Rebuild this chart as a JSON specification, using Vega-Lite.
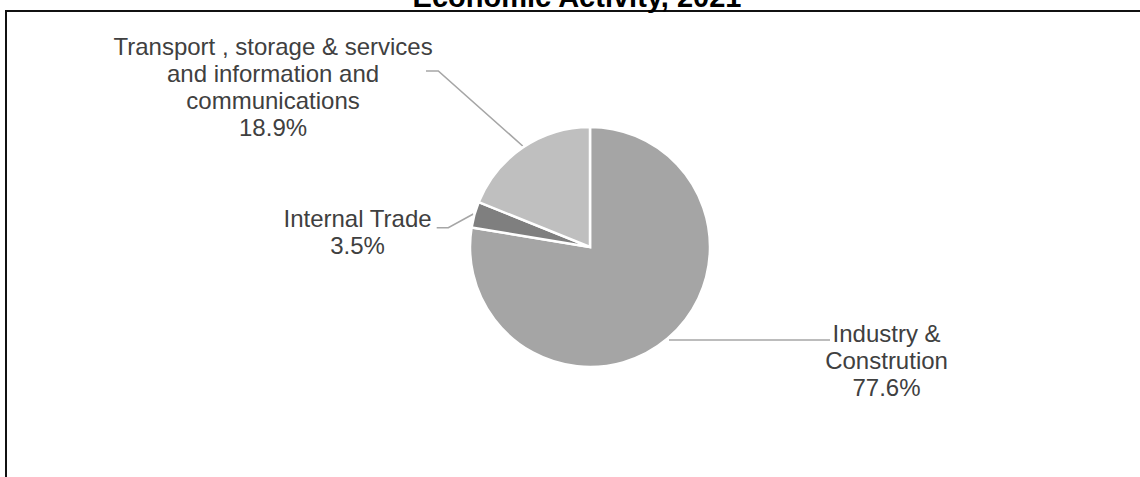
{
  "$schema": "https://vega.github.io/schema/vega-lite/v6.json",
  "autosize": "none",
  "width": 1168,
  "height": 472,
  "padding": {"left": 6, "top": 11, "right": -34, "bottom": -6},
  "background": "#ffffff",
  "config": {
    "view": {"stroke": "#111111", "strokeWidth": 2},
    "font": "Liberation Sans"
  },
  "title": {
    "text": "Economic Activity, 2021",
    "font": "Liberation Sans",
    "fontSize": 29,
    "fontWeight": "bold",
    "color": "#000000",
    "anchor": "middle",
    "frame": "group",
    "baseline": "alphabetic",
    "offset": 4,
    "dx": -13,
    "dy": 29
  },
  "datasets": {
    "slices": [
      {"category": "Industry & Constrution", "label": "Industry &|Constrution", "value": 77.6},
      {"category": "Internal Trade", "label": "Internal Trade", "value": 3.5},
      {"category": "Transport , storage & services and information and communications", "label": "Transport , storage & services|and information and|communications", "value": 18.9}
    ],
    "leaders": [
      {"category": "Industry & Constrution", "seq": 1, "x": 79, "y": -93},
      {"category": "Industry & Constrution", "seq": 2, "x": 240, "y": -93},
      {"category": "Internal Trade", "seq": 1, "x": -116.7, "y": 33},
      {"category": "Internal Trade", "seq": 2, "x": -141.7, "y": 19.3},
      {"category": "Internal Trade", "seq": 3, "x": -153.3, "y": 19.3},
      {"category": "Transport", "seq": 1, "x": -67.3, "y": 101},
      {"category": "Transport", "seq": 2, "x": -151.7, "y": 176},
      {"category": "Transport", "seq": 3, "x": -164, "y": 176}
    ]
  },
  "layer": [
    {
      "data": {"name": "leaders"},
      "mark": {"type": "line", "color": "#A6A6A6", "strokeWidth": 1.6},
      "encoding": {
        "x": {"field": "x", "type": "quantitative", "scale": {"domain": [-584, 584], "nice": false, "zero": false}, "axis": null},
        "y": {"field": "y", "type": "quantitative", "scale": {"domain": [-236, 236], "nice": false, "zero": false}, "axis": null},
        "detail": {"field": "category", "type": "nominal"},
        "order": {"field": "seq", "type": "quantitative"}
      }
    },
    {
      "data": {"name": "slices"},
      "transform": [
        {"stack": "value", "groupby": [], "sort": [{"field": "category", "order": "ascending"}], "as": ["v0", "v1"]}
      ],
      "mark": {"type": "arc", "radius": 120, "stroke": "#ffffff", "strokeWidth": 2.5},
      "encoding": {
        "theta": {"field": "v0", "type": "quantitative", "scale": {"domain": [0, 100]}},
        "theta2": {"field": "v1"},
        "color": {
          "field": "category",
          "type": "nominal",
          "scale": {
            "domain": ["Industry & Constrution", "Internal Trade", "Transport , storage & services and information and communications"],
            "range": ["#A5A5A5", "#7F7F7F", "#BFBFBF"]
          },
          "legend": null
        }
      }
    },
    {
      "data": {"name": "slices"},
      "transform": [
        {"stack": "value", "groupby": [], "sort": [{"field": "category", "order": "ascending"}], "as": ["v0", "v1"]},
        {"calculate": "(datum.v0 + datum.v1) / 2", "as": "mid"},
        {"calculate": "datum.label + '|' + format(datum.value, '.1f') + '%'", "as": "labelText"},
        {"filter": "datum.category == 'Industry & Constrution'"}
      ],
      "mark": {"type": "text", "radius": 122, "dx": 217.6, "dy": 2, "align": "center", "baseline": "alphabetic", "lineBreak": "|", "lineHeight": 27, "fontSize": 24, "font": "Liberation Sans", "color": "#404040"},
      "encoding": {
        "theta": {"field": "mid", "type": "quantitative", "scale": {"domain": [0, 100]}},
        "text": {"field": "labelText", "type": "nominal"}
      }
    },
    {
      "data": {"name": "slices"},
      "transform": [
        {"stack": "value", "groupby": [], "sort": [{"field": "category", "order": "ascending"}], "as": ["v0", "v1"]},
        {"calculate": "(datum.v0 + datum.v1) / 2", "as": "mid"},
        {"calculate": "datum.label + '|' + format(datum.value, '.1f') + '%'", "as": "labelText"},
        {"filter": "datum.category == 'Internal Trade'"}
      ],
      "mark": {"type": "text", "radius": 122, "dx": -115, "dy": 13.2, "align": "center", "baseline": "alphabetic", "lineBreak": "|", "lineHeight": 27, "fontSize": 24, "font": "Liberation Sans", "color": "#404040"},
      "encoding": {
        "theta": {"field": "mid", "type": "quantitative", "scale": {"domain": [0, 100]}},
        "text": {"field": "labelText", "type": "nominal"}
      }
    },
    {
      "data": {"name": "slices"},
      "transform": [
        {"stack": "value", "groupby": [], "sort": [{"field": "category", "order": "ascending"}], "as": ["v0", "v1"]},
        {"calculate": "(datum.v0 + datum.v1) / 2", "as": "mid"},
        {"calculate": "datum.label + '|' + format(datum.value, '.1f') + '%'", "as": "labelText"},
        {"filter": "datum.category == 'Transport , storage & services and information and communications'"}
      ],
      "mark": {"type": "text", "radius": 122, "dx": -248.7, "dy": -90.4, "align": "center", "baseline": "alphabetic", "lineBreak": "|", "lineHeight": 27, "fontSize": 24, "font": "Liberation Sans", "color": "#404040"},
      "encoding": {
        "theta": {"field": "mid", "type": "quantitative", "scale": {"domain": [0, 100]}},
        "text": {"field": "labelText", "type": "nominal"}
      }
    }
  ]
}
